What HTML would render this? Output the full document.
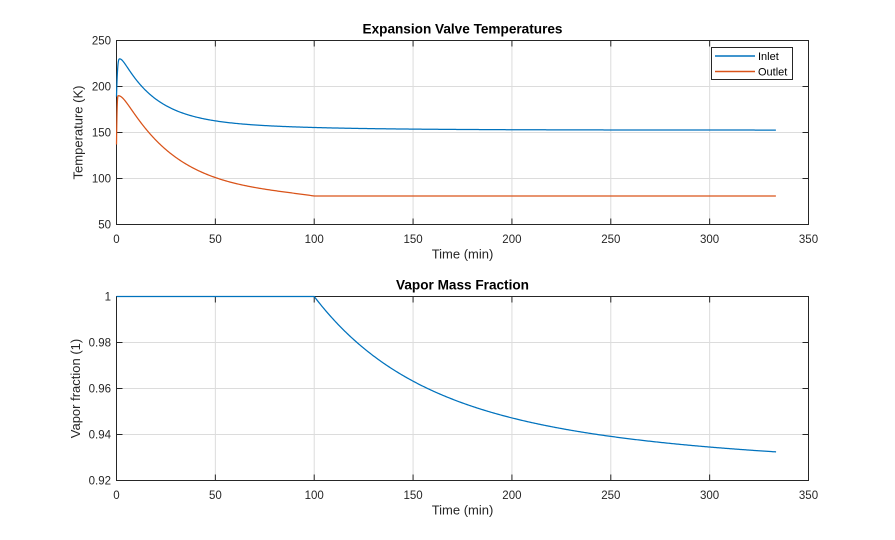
<!DOCTYPE html>
<html><head><meta charset="utf-8"><style>
html,body{margin:0;padding:0;background:#fff;}
svg{display:block;font-family:"Liberation Sans",Arial,sans-serif;}
</style></head><body>
<svg id="s" width="895" height="540" viewBox="0 0 895 540" xmlns="http://www.w3.org/2000/svg">
<rect width="895" height="540" fill="#fff"/>
<g id="grid" stroke="#dcdcdc" stroke-width="1" fill="none"></g>
<g id="axes" stroke="#262626" stroke-width="1" fill="none"></g>
<g id="data2" fill="none" stroke-width="1.25" stroke-linejoin="round"></g>
<!-- Top plot text -->
<text x="462.5" y="33.5" text-anchor="middle" font-size="13.6" font-weight="bold" fill="#000">Expansion Valve Temperatures</text>
<g font-size="11.5" fill="#262626" text-anchor="end">
<text x="111" y="44.5">250</text>
<text x="111" y="90.5">200</text>
<text x="111" y="136.5">150</text>
<text x="111" y="182.5">100</text>
<text x="111" y="228.5">50</text>
</g>
<g font-size="11.5" fill="#262626" text-anchor="middle">
<text x="116.5" y="243">0</text>
<text x="215.4" y="243">50</text>
<text x="314.2" y="243">100</text>
<text x="413.1" y="243">150</text>
<text x="511.9" y="243">200</text>
<text x="610.8" y="243">250</text>
<text x="709.6" y="243">300</text>
<text x="808.5" y="243">350</text>
</g>
<text x="462.5" y="258.5" text-anchor="middle" font-size="13" fill="#262626">Time (min)</text>
<text transform="translate(82.5,132.5) rotate(-90)" text-anchor="middle" font-size="13" fill="#262626">Temperature (K)</text>
<!-- Bottom plot text -->
<text x="462.5" y="289.5" text-anchor="middle" font-size="13.6" font-weight="bold" fill="#000">Vapor Mass Fraction</text>
<g font-size="11.5" fill="#262626" text-anchor="end">
<text x="111" y="300.5">1</text>
<text x="111" y="346.5">0.98</text>
<text x="111" y="392.5">0.96</text>
<text x="111" y="438.5">0.94</text>
<text x="111" y="484.5">0.92</text>
</g>
<g font-size="11.5" fill="#262626" text-anchor="middle">
<text x="116.5" y="499">0</text>
<text x="215.4" y="499">50</text>
<text x="314.2" y="499">100</text>
<text x="413.1" y="499">150</text>
<text x="511.9" y="499">200</text>
<text x="610.8" y="499">250</text>
<text x="709.6" y="499">300</text>
<text x="808.5" y="499">350</text>
</g>
<text x="462.5" y="514.5" text-anchor="middle" font-size="13" fill="#262626">Time (min)</text>
<text transform="translate(80,388.5) rotate(-90)" text-anchor="middle" font-size="13" fill="#262626">Vapor fraction (1)</text>
<g id="legend">
<rect x="711.5" y="47.5" width="81" height="32" fill="#fff" stroke="#262626" stroke-width="1"/>
<line x1="715" y1="56" x2="755" y2="56" stroke="#0072BD" stroke-width="1.5"/>
<line x1="715" y1="71.5" x2="755" y2="71.5" stroke="#D95319" stroke-width="1.5"/>
<text x="758" y="60" font-size="11" fill="#000">Inlet</text>
<text x="758" y="75.5" font-size="11" fill="#000">Outlet</text>
</g>
</svg>
<script>
(function(){
var NS="http://www.w3.org/2000/svg";
function el(parent,tag,attrs){var e=document.createElementNS(NS,tag);for(var k in attrs)e.setAttribute(k,attrs[k]);parent.appendChild(e);return e;}
var L=116.5,R=808.5;
var panels=[{top:40.5,bot:224.5},{top:296.5,bot:480.5}];
var grid=document.getElementById('grid'),axes=document.getElementById('axes');
var dx=(R-L)/7;
var gd="",ad="";
panels.forEach(function(p){
  var dy=(p.bot-p.top)/4;
  for(var k=1;k<7;k++){var x=L+k*dx;gd+="M"+x+" "+p.top+"V"+p.bot;}
  for(var j=1;j<4;j++){var y=p.top+j*dy;gd+="M"+L+" "+y+"H"+R;}
  ad+="M"+L+" "+p.top+"H"+R+"V"+p.bot+"H"+L+"Z";
  for(var k=1;k<7;k++){var x=L+k*dx;ad+="M"+x+" "+p.bot+"v-6M"+x+" "+p.top+"v6";}
  for(var j=1;j<4;j++){var y=p.top+j*dy;ad+="M"+L+" "+y+"h6M"+R+" "+y+"h-6";}
});
el(grid,'path',{d:gd});
el(axes,'path',{d:ad});

function X(t){return L+t*(R-L)/350;}
function YT(T){return 224.5-(T-50)/200*184;}
function YV(v){return 480.5-(v-0.92)/0.08*184;}

function E(s,a,tau){return (Math.sqrt(s*s+a*a)-a)/tau;}
function inlet(t){
  var tp=1.6;
  if(t<tp){var u=1-t/tp;return 230-41*u*u*u;}
  var s=t-tp;
  return 152.6+77.4*(0.8*Math.exp(-E(s,2,16))+0.2*Math.exp(-E(s,2,55)));
}
function outlet(t){
  var tp=0.9;
  if(t<tp){var u=1-t/tp;return 190-53*u*u*u;}
  var s=t-tp, se=99.1;
  if(s>=se) return 81;
  var fe=Math.exp(-0.037*(Math.sqrt(se*se+3.5*3.5)-3.5));
  var f=Math.exp(-0.037*(Math.sqrt(s*s+3.5*3.5)-3.5))-fe*Math.pow(s/se,6);
  return 81+109*f;
}
function vapor(t){
  if(t<=100) return 1;
  var s=t-100;
  return 1-(0.04*(1-Math.exp(-s/45))+0.0352*(1-Math.exp(-s/150)));
}
function sample(fn,fy,t0,t1){
  var s="",t=t0,first=true;
  while(t<=t1+1e-9){
    s+=(first?"M":"L")+X(t).toFixed(2)+" "+fy(fn(t)).toFixed(2);
    first=false;
    t+= (t<5?0.05:(t<30?0.25:0.5));
  }
  s+="L"+X(t1).toFixed(2)+" "+fy(fn(t1)).toFixed(2);
  return s;
}
var data=document.getElementById('data2');
var inD="M"+X(0).toFixed(2)+" "+YT(189).toFixed(2)+sample(inlet,YT,0,333.5).replace(/^M/,"L");
var outD="M"+X(0).toFixed(2)+" "+YT(137).toFixed(2)+sample(outlet,YT,0,333.5).replace(/^M/,"L");
el(data,'path',{d:inD,stroke:"#0072BD"});
el(data,'path',{d:outD,stroke:"#D95319"});
el(data,'path',{d:"M"+X(0)+" "+YV(1)+"H"+X(100)+sample(vapor,YV,100,333.6).replace(/^M/,"L"),stroke:"#0072BD"});
})();
</script>
</body></html>
